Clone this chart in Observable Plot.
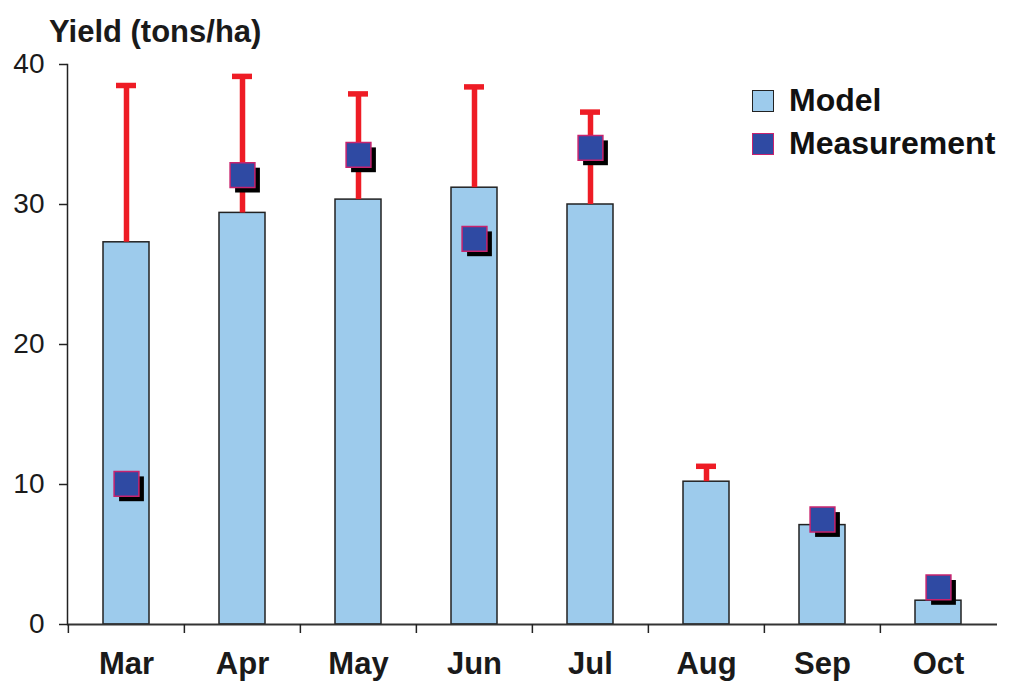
<!DOCTYPE html>
<html><head><meta charset="utf-8">
<script src="https://cdn.jsdelivr.net/npm/d3@7"></script>
<script src="https://cdn.jsdelivr.net/npm/@observablehq/plot@0.6"></script>
<style>
body{margin:0;background:#fff;font-family:"Liberation Sans",Arial,sans-serif;}
#wrap{position:relative;width:1010px;height:682px;overflow:hidden;}
#title{height:40px;box-sizing:border-box;padding-left:49px;padding-top:15px;font-weight:bold;font-size:31px;line-height:34px;color:#1a1a1a;white-space:nowrap;}
#legend{position:absolute;left:752px;top:79px;font-size:32px;font-weight:bold;color:#111;}
.item{display:flex;align-items:center;height:43px;}
.sw{width:22px;height:22px;margin-right:15px;box-sizing:border-box;}
#chart svg{display:block;}
</style></head>
<body><div id="wrap"><div id="title">Yield (tons/ha)</div><div id="chart"></div><div id="legend"></div></div>
<script>
const months = ["Mar","Apr","May","Jun","Jul","Aug","Sep","Oct"];
const model = [27.3, 29.4, 30.35, 31.2, 30.0, 10.2, 7.1, 1.7];
const errorUpper = [38.5, 39.15, 37.9, 38.4, 36.6, 11.3, null, null];
const measurement = [10.05, 32.1, 33.55, 27.55, 34.05, null, 7.5, 2.65];
const yTicks = [0, 10, 20, 30, 40];
const legendLabels = ["Model", "Measurement"];

const colors = {bar:"#9dcbec", barStroke:"#222", err:"#ee1c25", marker:"#2f4aa3", markerStroke:"#c8236e"};

const data = months.map((m, i) => ({month: m, model: model[i], upper: errorUpper[i], meas: measurement[i]}));
const errData = data.filter(d => d.upper != null);
const measData = data.filter(d => d.meas != null);

const W = 1010, H = 642, ML = 67, MR = 13, MT = 24, MB = 58;
const step = (W - ML - MR) / months.length;

const chart = Plot.plot({
  width: W, height: H,
  marginLeft: ML, marginRight: MR, marginTop: MT, marginBottom: MB,
  style: {fontFamily: '"Liberation Sans", Arial, sans-serif', color: "#1a1a1a", background: "transparent"},
  x: {domain: months, paddingInner: 0.6, paddingOuter: 0.3},
  y: {domain: [0, 40]},
  marks: [
    Plot.barY(data, {x: "month", y: "model", fill: colors.bar, stroke: colors.barStroke, strokeWidth: 1.5}),
    Plot.ruleY([0], {stroke: "#333", strokeWidth: 2}),
    Plot.frame({anchor: "left", stroke: "#222", strokeWidth: 1.5}),
    Plot.axisY({ticks: yTicks, tickSize: 8, tickPadding: 15, fontSize: 28, label: null, stroke: "#222", strokeWidth: 1.5}),
    Plot.axisX({tickSize: 0, tickPadding: 27, fontSize: 31, fontWeight: "bold", label: null}),
    Plot.axisX({tickSize: 9, tickFormat: () => "", label: null, dx: -step / 2, stroke: "#222", strokeWidth: 1.5}),
    Plot.ruleX(errData, {x: "month", y1: "model", y2: "upper", stroke: colors.err, strokeWidth: 5.5}),
    Plot.tickY(errData, {x: "month", y: "upper", stroke: colors.err, strokeWidth: 5.5, insetLeft: 13, insetRight: 13}),
    Plot.dot(measData, {x: "month", y: "meas", symbol: "square", r: 14, fill: "#000", dx: 5, dy: 5}),
    Plot.dot(measData, {x: "month", y: "meas", symbol: "square", r: 14, fill: colors.marker, stroke: colors.markerStroke, strokeWidth: 1.5})
  ]
});
document.getElementById("chart").appendChild(chart);

const legend = document.getElementById("legend");
const swStyles = [
  {bg: colors.bar, border: "1.5px solid #222"},
  {bg: colors.marker, border: "1.5px solid " + colors.markerStroke}
];
legendLabels.forEach((lab, i) => {
  const it = document.createElement("div"); it.className = "item";
  const sw = document.createElement("div"); sw.className = "sw";
  sw.style.background = swStyles[i].bg; sw.style.border = swStyles[i].border;
  const t = document.createElement("span"); t.textContent = lab;
  it.appendChild(sw); it.appendChild(t); legend.appendChild(it);
});
</script>
</body></html>
